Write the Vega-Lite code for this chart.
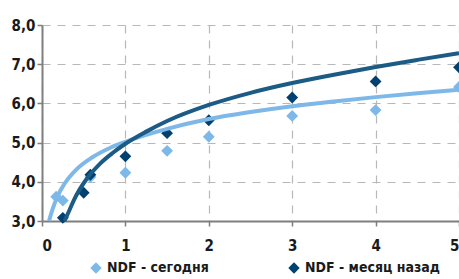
{
  "$schema": "https://vega.github.io/schema/vega-lite/v6.json",
  "width": 417,
  "height": 196,
  "autosize": {"type": "none"},
  "padding": {"left": 42, "top": 25, "right": 0, "bottom": 58},
  "background": "white",
  "config": {
    "view": {"stroke": null},
    "font": "DejaVu Sans Condensed",
    "axis": {
      "labelFont": "DejaVu Sans Condensed",
      "labelFontWeight": "bold",
      "labelFontSize": 15,
      "labelColor": "#1a1a1a",
      "domainColor": "#7f7f7f",
      "domainWidth": 2,
      "tickColor": "#7f7f7f",
      "tickWidth": 1.5,
      "gridColor": "#b8b8b8",
      "gridWidth": 1.2,
      "gridDash": [8, 7],
      "labelOverlap": false,
      "title": null
    }
  },
  "datasets": {
    "points": [
      {"series": "NDF - сегодня", "x": 0.17, "y": 3.62},
      {"series": "NDF - сегодня", "x": 0.25, "y": 3.52},
      {"series": "NDF - сегодня", "x": 0.58, "y": 4.12},
      {"series": "NDF - сегодня", "x": 1, "y": 4.23},
      {"series": "NDF - сегодня", "x": 1.5, "y": 4.79},
      {"series": "NDF - сегодня", "x": 2, "y": 5.15},
      {"series": "NDF - сегодня", "x": 3, "y": 5.68},
      {"series": "NDF - сегодня", "x": 4, "y": 5.83},
      {"series": "NDF - сегодня", "x": 5, "y": 6.42},
      {"series": "NDF - месяц назад", "x": 0.25, "y": 3.08},
      {"series": "NDF - месяц назад", "x": 0.5, "y": 3.72},
      {"series": "NDF - месяц назад", "x": 0.58, "y": 4.18},
      {"series": "NDF - месяц назад", "x": 1, "y": 4.65},
      {"series": "NDF - месяц назад", "x": 1.5, "y": 5.24},
      {"series": "NDF - месяц назад", "x": 2, "y": 5.57},
      {"series": "NDF - месяц назад", "x": 3, "y": 6.15},
      {"series": "NDF - месяц назад", "x": 4, "y": 6.56},
      {"series": "NDF - месяц назад", "x": 5, "y": 6.92}
    ],
    "trend": [
      {"series": "NDF - сегодня", "x": 0.084, "y": 3.0},
      {"series": "NDF - сегодня", "x": 0.13, "y": 3.32},
      {"series": "NDF - сегодня", "x": 0.184, "y": 3.62},
      {"series": "NDF - сегодня", "x": 0.27, "y": 3.95},
      {"series": "NDF - сегодня", "x": 0.42, "y": 4.33},
      {"series": "NDF - сегодня", "x": 0.6, "y": 4.62},
      {"series": "NDF - сегодня", "x": 0.82, "y": 4.87},
      {"series": "NDF - сегодня", "x": 1.0, "y": 5.02},
      {"series": "NDF - сегодня", "x": 1.5, "y": 5.35},
      {"series": "NDF - сегодня", "x": 2.0, "y": 5.6},
      {"series": "NDF - сегодня", "x": 2.5, "y": 5.78},
      {"series": "NDF - сегодня", "x": 3.0, "y": 5.93},
      {"series": "NDF - сегодня", "x": 3.5, "y": 6.05},
      {"series": "NDF - сегодня", "x": 4.0, "y": 6.16},
      {"series": "NDF - сегодня", "x": 4.5, "y": 6.26},
      {"series": "NDF - сегодня", "x": 5.0, "y": 6.35},
      {"series": "NDF - месяц назад", "x": 0.27, "y": 3.0},
      {"series": "NDF - месяц назад", "x": 0.33, "y": 3.28},
      {"series": "NDF - месяц назад", "x": 0.384, "y": 3.54},
      {"series": "NDF - месяц назад", "x": 0.45, "y": 3.8},
      {"series": "NDF - месяц назад", "x": 0.524, "y": 4.04},
      {"series": "NDF - месяц назад", "x": 0.7, "y": 4.47},
      {"series": "NDF - месяц назад", "x": 0.85, "y": 4.74},
      {"series": "NDF - месяц назад", "x": 1.0, "y": 4.97},
      {"series": "NDF - месяц назад", "x": 1.25, "y": 5.28},
      {"series": "NDF - месяц назад", "x": 1.5, "y": 5.55},
      {"series": "NDF - месяц назад", "x": 2.0, "y": 5.96},
      {"series": "NDF - месяц назад", "x": 2.5, "y": 6.27},
      {"series": "NDF - месяц назад", "x": 3.0, "y": 6.52},
      {"series": "NDF - месяц назад", "x": 3.5, "y": 6.73},
      {"series": "NDF - месяц назад", "x": 4.0, "y": 6.93},
      {"series": "NDF - месяц назад", "x": 4.5, "y": 7.11},
      {"series": "NDF - месяц назад", "x": 5.0, "y": 7.28}
    ]
  },
  "layer": [
    {
      "data": {"name": "points"},
      "mark": {"type": "point", "shape": "diamond", "filled": true, "opacity": 1, "size": 140},
      "encoding": {
        "x": {
          "field": "x",
          "type": "quantitative",
          "scale": {"domain": [0, 5], "nice": false, "zero": true},
          "axis": {"values": [0, 1, 2, 3, 4, 5], "tickSize": 5, "labelPadding": 12, "format": "d", "grid": true, "gridDash": [8, 7]}
        },
        "y": {
          "field": "y",
          "type": "quantitative",
          "scale": {"domain": [3, 8], "nice": false, "zero": false},
          "axis": {"values": [3, 4, 5, 6, 7, 8], "tickSize": 5, "labelPadding": 2, "grid": true, "gridDash": [8, 7],
            "labelExpr": "replace(format(datum.value, '.1f'), '.', ',')"}
        },
        "fill": {
          "field": "series",
          "type": "nominal",
          "scale": {"domain": ["NDF - сегодня", "NDF - месяц назад"], "range": ["#7db8e8", "#00416f"]},
          "legend": {
            "orient": "none",
            "direction": "horizontal",
            "legendX": 47,
            "legendY": 236,
            "title": null,
            "symbolType": "diamond",
            "symbolSize": 130,
            "symbolStrokeWidth": 0,
            "labelFont": "DejaVu Sans Condensed",
            "labelFontWeight": "bold",
            "labelFontSize": 14,
            "labelColor": "#1a1a1a",
            "labelOffset": 4,
            "columnPadding": 78,
            "padding": 0,
            "labelLimit": 300
          }
        }
      }
    },
    {
      "data": {"name": "trend"},
      "mark": {"type": "line", "strokeWidth": 4, "interpolate": "monotone", "strokeCap": "butt"},
      "encoding": {
        "x": {
          "field": "x",
          "type": "quantitative",
          "scale": {"domain": [0, 5], "nice": false, "zero": true},
          "axis": {"values": [0, 1, 2, 3, 4, 5], "tickSize": 5, "labelPadding": 12, "format": "d", "grid": true, "gridDash": [8, 7]}
        },
        "y": {
          "field": "y",
          "type": "quantitative",
          "scale": {"domain": [3, 8], "nice": false, "zero": false},
          "axis": {"values": [3, 4, 5, 6, 7, 8], "tickSize": 5, "labelPadding": 2, "grid": true, "gridDash": [8, 7],
            "labelExpr": "replace(format(datum.value, '.1f'), '.', ',')"}
        },
        "stroke": {
          "field": "series",
          "type": "nominal",
          "scale": {"domain": ["NDF - сегодня", "NDF - месяц назад"], "range": ["#7db8e8", "#1c5b85"]},
          "legend": null
        },
        "order": {"field": "x", "type": "quantitative"}
      }
    }
  ]
}
